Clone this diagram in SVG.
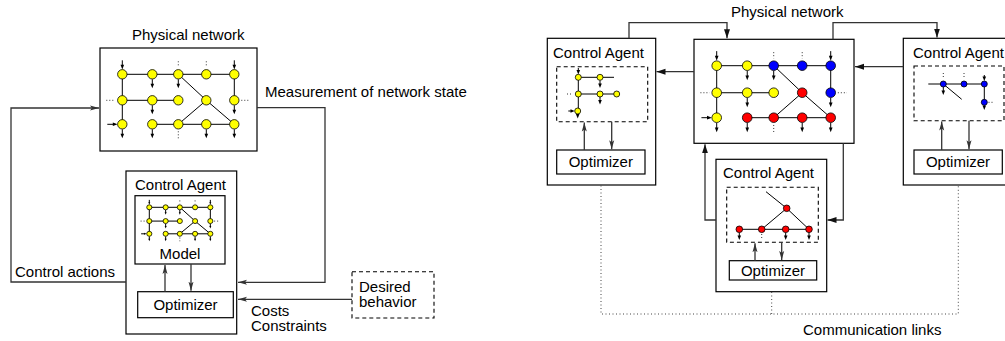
<svg xmlns="http://www.w3.org/2000/svg" xmlns:xlink="http://www.w3.org/1999/xlink" width="1005" height="341" viewBox="0 0 1005 341">
<style>
text{font-family:"Liberation Sans",Arial,sans-serif;font-size:15px;fill:#000}
.box{fill:#fff;stroke:#000;stroke-width:1.2}
.dbox{fill:none;stroke:#000;stroke-width:1.1;stroke-dasharray:4,3}
.con{fill:none;stroke:#333;stroke-width:1.3}
.dot{fill:none;stroke:#444;stroke-width:1;stroke-dasharray:1,2.5}
.ne path{fill:none;stroke:#000;stroke-width:1;vector-effect:non-scaling-stroke}
.ne path.dots{stroke-dasharray:1,2;stroke:#333}
.ne polygon{fill:#000}
.nd circle{stroke:#000;stroke-width:0.8;vector-effect:non-scaling-stroke}
.mini path{fill:none;stroke:#000;stroke-width:1}
.mini path.dots{stroke-dasharray:1,2;stroke:#333}
.mini polygon{fill:#000}
.Y{fill:#ffff00}.B{fill:#0000ff}.R{fill:#ff0000}
circle.Y,circle.B,circle.R{stroke:#000;stroke-width:0.8}
</style>
<defs>
<marker id="ah" markerUnits="userSpaceOnUse" markerWidth="10" markerHeight="8" refX="9" refY="4" orient="auto">
<path d="M0,1 L9,4 L0,7 z" fill="#111"/>
</marker>
<marker id="ahl" markerUnits="userSpaceOnUse" markerWidth="10" markerHeight="8" refX="9" refY="4" orient="auto">
<path d="M0,1.5 L9,4 L0,6.5 L2,4 z" fill="#333"/>
</marker>
<g id="netEdges" class="ne">
<path d="M0,0H112 M0,0V50 M0,26H56 M112,0V26 M30,50H112 M56,0L84,26 M84,26L112,50 M84,26L56,50"/>
<path d="M0,-14V-8 M112,-14V-8 M30,5V11 M56,5V11 M30,31V37 M112,31V37 M-15,50H-8 M0,55V61 M30,55V61 M84,55V61 M112,55V61"/>
<polygon points="-1.8,-9.5 1.8,-9.5 0,-4.7"/>
<polygon points="110.2,-9.5 113.8,-9.5 112,-4.7"/>
<polygon points="28.2,9.5 31.8,9.5 30,14"/>
<polygon points="54.2,9.5 57.8,9.5 56,14"/>
<polygon points="28.2,35.5 31.8,35.5 30,40"/>
<polygon points="110.2,35.5 113.8,35.5 112,40"/>
<polygon points="-9.5,48.2 -9.5,51.8 -4.7,50"/>
<polygon points="-1.8,59.5 1.8,59.5 0,64"/>
<polygon points="28.2,59.5 31.8,59.5 30,64"/>
<polygon points="82.2,59.5 85.8,59.5 84,64"/>
<polygon points="110.2,59.5 113.8,59.5 112,64"/>
<path class="dots" d="M56,-13V-7 M84,-13V-7 M-16,26H-7 M119,26H128 M56,57V64"/>
</g>
<g id="nodesY" class="nd">
<circle class="Y" cx="0" cy="0" r="4.7"/><circle class="Y" cx="30" cy="0" r="4.7"/><circle class="Y" cx="56" cy="0" r="4.7"/><circle class="Y" cx="84" cy="0" r="4.7"/><circle class="Y" cx="112" cy="0" r="4.7"/>
<circle class="Y" cx="0" cy="26" r="4.7"/><circle class="Y" cx="30" cy="26" r="4.7"/><circle class="Y" cx="56" cy="26" r="4.7"/><circle class="Y" cx="84" cy="26" r="4.7"/><circle class="Y" cx="112" cy="26" r="4.7"/>
<circle class="Y" cx="0" cy="50" r="4.7"/><circle class="Y" cx="30" cy="50" r="4.7"/><circle class="Y" cx="56" cy="50" r="4.7"/><circle class="Y" cx="84" cy="50" r="4.7"/><circle class="Y" cx="112" cy="50" r="4.7"/>
</g>
</defs>

<!-- LEFT FIGURE -->
<g id="physical-network-left">
<text x="132" y="40">Physical network</text>
<rect class="box" x="100" y="48" width="157" height="103"/>
<use xlink:href="#netEdges" transform="translate(122.3,74.3)"/>
<use xlink:href="#nodesY" transform="translate(122.3,74.3)"/>
</g>
<text x="265" y="97">Measurement of network state</text>
<text x="15" y="277">Control actions</text>
<g id="control-agent-left">
<rect class="box" x="126" y="171" width="110.7" height="163"/>
<text x="135" y="190">Control Agent</text>
<g id="model-left">
<rect class="box" x="135" y="195.7" width="90" height="68.3"/>
<use xlink:href="#netEdges" transform="translate(149.3,207.3) scale(0.545,0.53)"/>
<use xlink:href="#nodesY" transform="translate(149.3,207.3) scale(0.545,0.53)"/>
<text x="180" y="259" text-anchor="middle">Model</text>
</g>
<g id="optimizer-left">
<rect class="box" x="137.7" y="291.7" width="95.6" height="26"/>
<text x="185.5" y="310" text-anchor="middle">Optimizer</text>
</g>
</g>
<g id="desired-behavior">
<rect class="dbox" x="352" y="271.7" width="82" height="46.3"/>
<text x="359" y="292">Desired</text>
<text x="359" y="307">behavior</text>
</g>
<text x="251" y="316">Costs</text>
<text x="251" y="331">Constraints</text>

<!-- RIGHT FIGURE -->
<text x="731" y="17">Physical network</text>
<g id="physical-network-right">
<rect class="box" x="694" y="39.3" width="160" height="104"/>
<use xlink:href="#netEdges" transform="translate(716.7,65.7) scale(1.018,1.04)"/>
<circle class="Y" cx="716.7" cy="65.7" r="4.8"/><circle class="Y" cx="747.2" cy="65.7" r="4.8"/><circle class="B" cx="773.7" cy="65.7" r="4.8"/><circle class="B" cx="802.2" cy="65.7" r="4.8"/><circle class="B" cx="830.7" cy="65.7" r="4.8"/>
<circle class="Y" cx="716.7" cy="92.7" r="4.8"/><circle class="Y" cx="747.2" cy="92.7" r="4.8"/><circle class="Y" cx="773.7" cy="92.7" r="4.8"/><circle class="R" cx="802.2" cy="92.7" r="4.8"/><circle class="B" cx="830.7" cy="92.7" r="4.8"/>
<circle class="Y" cx="716.7" cy="117.7" r="4.8"/><circle class="R" cx="747.2" cy="117.7" r="4.8"/><circle class="R" cx="773.7" cy="117.7" r="4.8"/><circle class="R" cx="802.2" cy="117.7" r="4.8"/><circle class="R" cx="830.7" cy="117.7" r="4.8"/>
</g>
<g id="control-agent-1">
<rect class="box" x="547.3" y="38.3" width="108.4" height="146.7"/>
<text x="553" y="58">Control Agent</text>
<rect class="dbox" x="556.7" y="66.7" width="91" height="55"/>
<g class="mini">
<path d="M578.3,77.3H614 M578.3,77.3V111 M578.3,94H616.7 M578.3,68V71 M600,80.3V84 M600,97V101 M568.3,111H571 M577.7,114V115"/>
<polygon points="576.5,70 580.1,70 578.3,74.5"/>
<polygon points="598.2,83.5 601.8,83.5 600,88"/>
<polygon points="598.2,100 601.8,100 600,104.5"/>
<polygon points="570.5,109.2 570.5,112.8 574.7,111"/>
<polygon points="575.9,114 579.5,114 577.7,118.5"/>
<path class="dots" d="M567,94H573"/>
<circle class="Y" cx="578.3" cy="77.3" r="3"/><circle class="Y" cx="600" cy="77.3" r="3"/>
<circle class="Y" cx="578.3" cy="94" r="3"/><circle class="Y" cx="600" cy="94" r="3"/><circle class="Y" cx="616.7" cy="94" r="3"/>
<circle class="Y" cx="577.7" cy="111" r="3"/>
</g>
<rect class="box" x="556.7" y="150" width="88.3" height="24"/>
<text x="600.8" y="167" text-anchor="middle">Optimizer</text>
</g>
<g id="control-agent-2">
<rect class="box" x="903.3" y="38.3" width="108.4" height="146.7"/>
<text x="913" y="58">Control Agent</text>
<rect class="dbox" x="914" y="66" width="90" height="54.7"/>
<g class="mini">
<path d="M928.3,84H984.3 M984.3,84V102.3 M943.3,84L961.7,99.3 M943.3,87V91 M984.3,75V77 M984.3,105.3V106"/>
<polygon points="941.5,90.5 945.1,90.5 943.3,95"/>
<polygon points="982.5,76.5 986.1,76.5 984.3,81"/>
<polygon points="982.5,105.5 986.1,105.5 984.3,110"/>
<path class="dots" d="M943.3,73V78 M964,73V78 M988.5,102.3H994"/>
<circle class="B" cx="943.3" cy="84" r="3"/><circle class="B" cx="964" cy="84" r="3"/><circle class="B" cx="984.3" cy="84" r="3"/>
<circle class="B" cx="984.3" cy="102.3" r="3"/>
</g>
<rect class="box" x="914" y="150" width="88.3" height="24"/>
<text x="958" y="167" text-anchor="middle">Optimizer</text>
</g>
<g id="control-agent-3">
<rect class="box" x="716" y="159.3" width="110.7" height="132.4"/>
<text x="723" y="178">Control Agent</text>
<rect class="dbox" x="726.7" y="187.3" width="91.6" height="55"/>
<g class="mini">
<path d="M766,191.7L786.7,208.3 M786.7,208.3L761.7,229.3 M786.7,208.3L809,229.3 M739.3,229.3H809 M739.3,232.5V236 M785.7,232.5V236 M809,232.5V236"/>
<polygon points="737.5,235.5 741.1,235.5 739.3,240"/>
<polygon points="783.9,235.5 787.5,235.5 785.7,240"/>
<polygon points="807.2,235.5 810.8,235.5 809,240"/>
<path class="dots" d="M761.7,234V240"/>
<circle class="R" cx="786.7" cy="208.3" r="3.3"/>
<circle class="R" cx="739.3" cy="229.3" r="3.3"/><circle class="R" cx="761.7" cy="229.3" r="3.3"/><circle class="R" cx="785.7" cy="229.3" r="3.3"/><circle class="R" cx="809" cy="229.3" r="3.3"/>
</g>
<rect class="box" x="729.3" y="260.7" width="87.4" height="19.3"/>
<text x="773" y="276" text-anchor="middle">Optimizer</text>
</g>
<text x="803" y="335">Communication links</text>

<g id="connectors-left">
<path class="con" d="M126,282 H11 V108 H99" marker-end="url(#ahl)"/>
<path class="con" d="M257,107.7 H325 V282.3 H238" marker-end="url(#ahl)"/>
<path class="con" d="M352,299.3 H238" marker-end="url(#ahl)"/>
<path class="con" d="M165,291.7 V265" marker-end="url(#ahl)"/>
<path class="con" d="M191,264 V290.7" marker-end="url(#ahl)"/>
</g>
<g id="connectors-right">
<path class="con" d="M629,38.3 V22.7 H727 V38.3" marker-end="url(#ah)"/>
<path class="con" d="M833,39.3 V22.7 H937 V37.5" marker-end="url(#ah)"/>
<path class="con" d="M694,71.7 H656.5" marker-end="url(#ah)"/>
<path class="con" d="M903.3,66.7 H855" marker-end="url(#ah)"/>
<path class="con" d="M716,220 H705 V144.3" marker-end="url(#ah)"/>
<path class="con" d="M843.3,143.3 V220 H827.5" marker-end="url(#ah)"/>
<path class="con" d="M584.3,150 V122.5" marker-end="url(#ahl)"/>
<path class="con" d="M611.7,121.7 V149.2" marker-end="url(#ahl)"/>
<path class="con" d="M941.7,150 V121.5" marker-end="url(#ahl)"/>
<path class="con" d="M969,120.7 V149.2" marker-end="url(#ahl)"/>
<path class="con" d="M755,260.7 V243.2" marker-end="url(#ahl)"/>
<path class="con" d="M781.7,242.3 V259.9" marker-end="url(#ahl)"/>
<path class="dot" d="M601,185.5 V314 H958.3 V185.5 M771.7,292 V314"/>
</g>
</svg>
